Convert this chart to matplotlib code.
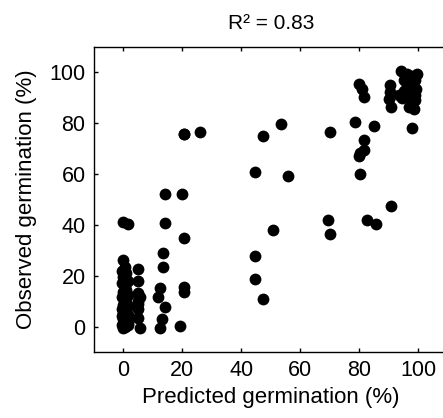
import matplotlib
matplotlib.use('Agg')
import matplotlib.pyplot as plt

plt.rcParams['font.family'] = ['Liberation Sans', 'DejaVu Sans']

# predicted vs observed germination (%)
pred_zero = [0, 0.5, -0.5, 1, 0, 1.5, -0.5, 0.5, 1, 0, 1.5, -0.5, 0.5, 1, 0,
             1.5, -0.5, 0.5, 1, 0, 1.5, -0.5, 0.5, 0, 1, 0.5, 1.5, 0, -0.5, 1,
             0.5, 0, 1.5, 1]
obs_zero = [26, 23.5, 22, 21, 19.5, 18, 17, 16, 14.5, 13.5, 12.5, 11.5, 10.5,
            9.5, 8.5, 8, 7, 6.5, 6, 5, 4.5, 4, 3.5, 3, 2.5, 2, 1.5, 1, 0.5,
            0.2, 0, -0.5, 0.5, 5.5]

pred_low = [0, 1.5, 4.9, 4.9, 4.9, 4.9, 4.9, 4.9, 5.5, 5, 5.5,
            14.2, 19.7, 14.2, 20.4, 13.3, 13.4, 12.3, 11.6, 14.2, 13.1,
            12.3, 19.3, 20.4, 20.4, 20.4, 20.4, 25.8]
obs_low = [41.3, 40.3, 22.6, 17.8, 9.9, 6.7, 9, 3.4, -0.4, 13, 11.5,
           52.3, 52.3, 40.8, 35, 28.9, 23.5, 15.1, 11.5, 7.7, 3,
           -0.4, 0.3, 15.6, 13.5, 75.7, 75.7, 76.6]

pred_mid = [44.5, 44.5, 47.3, 44.7, 47.4, 50.8, 53.5, 55.7, 69.3, 69.9,
            69.9, 79.8, 80.9, 81.5, 78.6, 84.9, 81.5, 81.5, 79.8, 80.3,
            80.1, 82.6, 85.7, 90.8]
obs_mid = [27.8, 18.7, 10.9, 60.9, 74.9, 38, 79.8, 59.2, 42, 36.5,
           76.4, 95.5, 93.6, 90.3, 80.5, 79, 73.3, 69.4, 67, 68.2,
           60, 42, 40.4, 47.5]

pred_high = [90.3, 90.5, 89.9, 90.8, 94.2, 96.1, 97.8, 99, 99.3, 94.4, 97,
             99, 96.7, 98.4, 96.1, 97.3, 95.2, 98.2, 97.8, 95, 98.8, 96.5,
             93.5, 99.5, 97.8]
obs_high = [94.9, 92.3, 89.4, 86.4, 100.4, 99.4, 98.6, 96.9, 93.6, 90, 90,
            89, 86.4, 85.5, 94.9, 92.3, 97, 95.5, 88, 92.5, 91, 96.5,
            91, 99.5, 78.2]

predicted = pred_zero + pred_low + pred_mid + pred_high
observed = obs_zero + obs_low + obs_mid + obs_high


def plot_results(x, y):
    fig = plt.figure(figsize=(4.43, 4.18), dpi=100)
    ax = fig.add_axes([0.212, 0.158, 0.799, 0.730])
    ax.plot(x, y, 'o', color='black', markersize=8.5, markeredgewidth=0,
            clip_on=False)

    ax.set_xlim(-10, 110)
    ax.set_ylim(-10, 110)
    ax.set_xticks([0, 20, 40, 60, 80, 100])
    ax.set_yticks([0, 20, 40, 60, 80, 100])
    ax.tick_params(direction='in', length=3, width=1, top=True, right=False,
                   labelsize=15.5, pad=6)
    for side in ['left', 'bottom', 'top']:
        ax.spines[side].set_linewidth(1)
    ax.spines['right'].set_visible(False)

    ax.set_xlabel('Predicted germination (%)', fontsize=16, labelpad=4)
    ax.set_ylabel('Observed germination (%)', fontsize=16, labelpad=9)
    ax.set_title('R² = 0.83', fontsize=15, pad=13)
    fig.savefig('out.png', dpi=100)


if __name__ == "__main__":
    plot_results(predicted, observed)
